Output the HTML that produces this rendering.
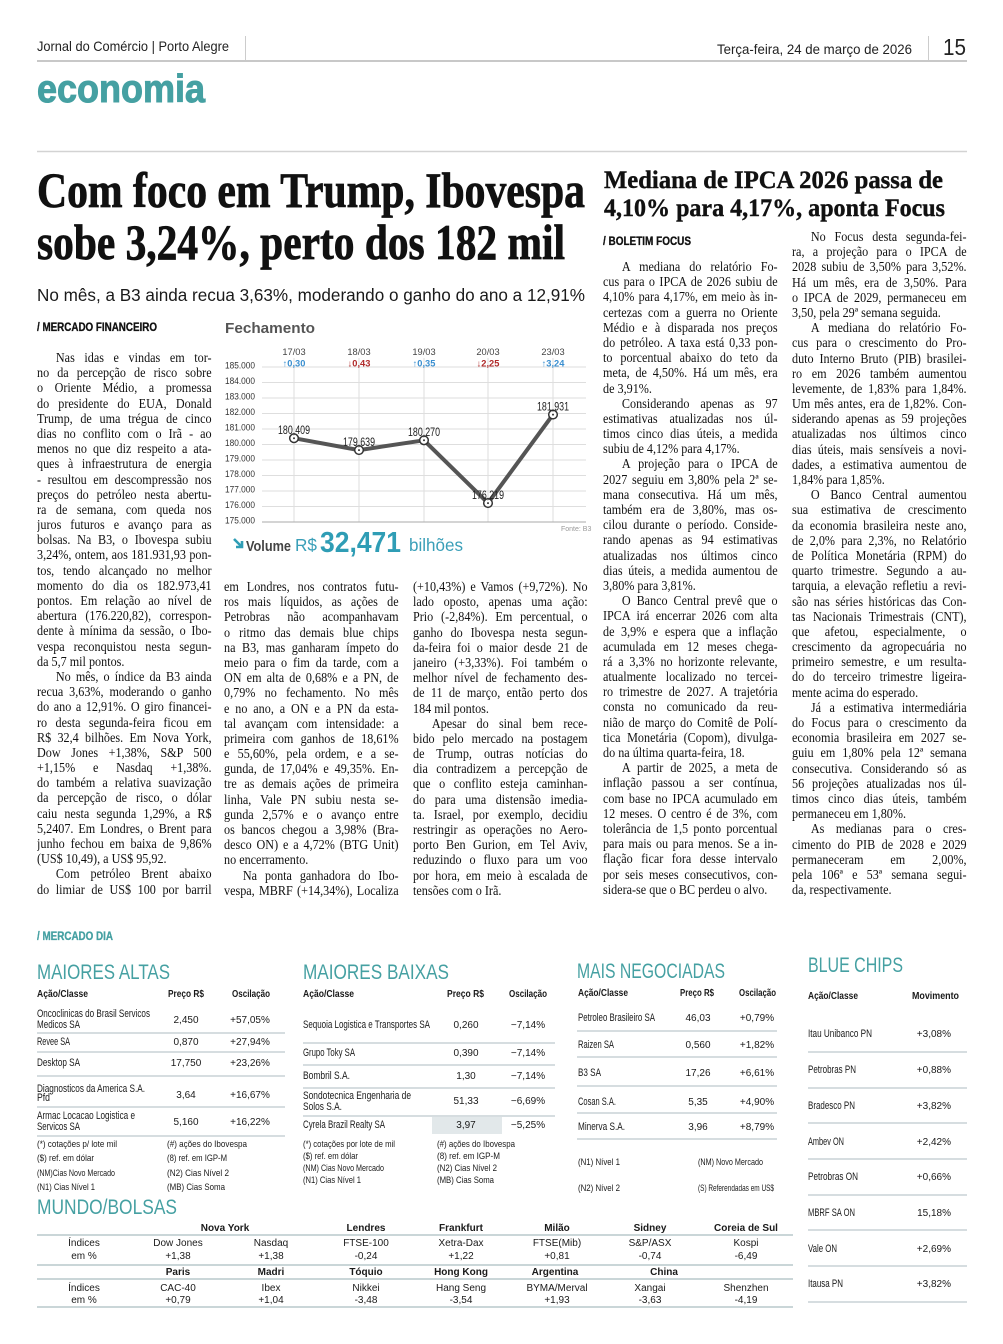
<!DOCTYPE html>
<html><head><meta charset="utf-8">
<style>
html,body{margin:0;padding:0;background:#fff}
#pg{position:relative;width:1003px;height:1344px;overflow:hidden;background:#fff}
svg{position:absolute;left:0;top:0}
.col{position:absolute;width:194px;transform:scaleX(0.9);transform-origin:0 0;font-family:"Liberation Serif",serif;font-size:13.5px;line-height:15.2px;color:#111}
.col div{height:15.2px;overflow:hidden;text-align:justify;text-align-last:justify}
.col div.e{text-align-last:left}
.col div.i{text-indent:21px}
</style></head><body><div id="pg">
<svg width="1003" height="1344" xmlns="http://www.w3.org/2000/svg">
<style>
.s{font-family:"Liberation Sans",sans-serif}
.b{font-family:"Liberation Sans",sans-serif;font-weight:bold}
.r{font-family:"Liberation Serif",serif;font-weight:bold}
.tl{fill:#45a0a2}
.t{font-family:"Liberation Sans",sans-serif;font-size:10px;fill:#1a1a1a}
.tn{font-family:"Liberation Sans",sans-serif;font-size:10.8px;fill:#1a1a1a}
.th{font-family:"Liberation Sans",sans-serif;font-weight:bold;font-size:10px;fill:#1a1a1a}
.fn{font-family:"Liberation Sans",sans-serif;font-size:9.5px;fill:#1a1a1a}
.m{text-anchor:middle}
.en{text-anchor:end}
</style>
<!-- header -->
<text x="37" y="51" class="s" font-size="14" fill="#222" textLength="192" lengthAdjust="spacingAndGlyphs">Jornal do Comércio | Porto Alegre</text>
<line x1="245.5" y1="36" x2="245.5" y2="60" stroke="#ccc"/>
<text x="717" y="54" class="s" font-size="14" fill="#222" textLength="195" lengthAdjust="spacingAndGlyphs">Terça-feira, 24 de março de 2026</text>
<line x1="928.5" y1="36" x2="928.5" y2="60" stroke="#ccc"/>
<text x="943" y="55" class="s" font-size="23" fill="#222" textLength="23" lengthAdjust="spacingAndGlyphs">15</text>
<line x1="37" y1="61" x2="967" y2="61" stroke="#c8c8c8" stroke-width="2"/>
<text x="37" y="102" class="b tl" font-size="39" stroke="#45a0a2" stroke-width="1" textLength="168" lengthAdjust="spacingAndGlyphs">economia</text>
<line x1="37" y1="151.5" x2="967" y2="151.5" stroke="#d3d3d3" stroke-width="1.5"/>

<!-- headlines -->
<text x="37" y="207" class="r" font-size="50" fill="#111" stroke="#111" stroke-width="0.8" textLength="548" lengthAdjust="spacingAndGlyphs">Com foco em Trump, Ibovespa</text>
<text x="37" y="259" class="r" font-size="50" fill="#111" stroke="#111" stroke-width="0.8" textLength="528" lengthAdjust="spacingAndGlyphs">sobe 3,24%, perto dos 182 mil</text>
<text x="37" y="301" class="s" font-size="17.5" fill="#1a1a1a" textLength="548" lengthAdjust="spacingAndGlyphs">No mês, a B3 ainda recua 3,63%, moderando o ganho do ano a 12,91%</text>
<text x="37" y="331" class="b" font-size="11.5" fill="#111" stroke="#111" stroke-width="0.3" textLength="120" lengthAdjust="spacingAndGlyphs">/ MERCADO FINANCEIRO</text>

<text x="604" y="188" class="r" font-size="25" fill="#111" stroke="#111" stroke-width="0.4" textLength="339" lengthAdjust="spacingAndGlyphs">Mediana de IPCA 2026 passa de</text>
<text x="604" y="216" class="r" font-size="25" fill="#111" stroke="#111" stroke-width="0.4" textLength="341" lengthAdjust="spacingAndGlyphs">4,10% para 4,17%, aponta Focus</text>
<text x="603" y="245" class="b" font-size="11.5" fill="#111" stroke="#111" stroke-width="0.3" textLength="88" lengthAdjust="spacingAndGlyphs">/ BOLETIM FOCUS</text>

<!-- chart -->
<text x="225" y="333" class="b" font-size="15" fill="#555" textLength="90" lengthAdjust="spacingAndGlyphs">Fechamento</text>
<g stroke="#dedede" stroke-width="1">
<line x1="262" y1="367" x2="586" y2="367"/>
<line x1="262" y1="382.5" x2="586" y2="382.5"/>
<line x1="262" y1="398" x2="586" y2="398"/>
<line x1="262" y1="413.5" x2="586" y2="413.5"/>
<line x1="262" y1="429" x2="586" y2="429"/>
<line x1="262" y1="444.5" x2="586" y2="444.5"/>
<line x1="262" y1="460" x2="586" y2="460"/>
<line x1="262" y1="475.5" x2="586" y2="475.5"/>
<line x1="262" y1="491" x2="586" y2="491"/>
<line x1="262" y1="506.5" x2="586" y2="506.5"/>
<line x1="294" y1="358" x2="294" y2="522"/>
<line x1="359" y1="358" x2="359" y2="522"/>
<line x1="424" y1="358" x2="424" y2="522"/>
<line x1="488" y1="358" x2="488" y2="522"/>
<line x1="553" y1="358" x2="553" y2="522"/>
</g>
<line x1="262" y1="522" x2="586" y2="522" stroke="#aaa" stroke-width="1"/>
<g class="s" font-size="9.3" fill="#333">
<text x="225" y="368.5" textLength="30" lengthAdjust="spacingAndGlyphs">185.000</text>
<text x="225" y="384" textLength="30" lengthAdjust="spacingAndGlyphs">184.000</text>
<text x="225" y="399.5" textLength="30" lengthAdjust="spacingAndGlyphs">183.000</text>
<text x="225" y="415" textLength="30" lengthAdjust="spacingAndGlyphs">182.000</text>
<text x="225" y="430.5" textLength="30" lengthAdjust="spacingAndGlyphs">181.000</text>
<text x="225" y="446" textLength="30" lengthAdjust="spacingAndGlyphs">180.000</text>
<text x="225" y="461.5" textLength="30" lengthAdjust="spacingAndGlyphs">179.000</text>
<text x="225" y="477" textLength="30" lengthAdjust="spacingAndGlyphs">178.000</text>
<text x="225" y="492.5" textLength="30" lengthAdjust="spacingAndGlyphs">177.000</text>
<text x="225" y="508" textLength="30" lengthAdjust="spacingAndGlyphs">176.000</text>
<text x="225" y="523.5" textLength="30" lengthAdjust="spacingAndGlyphs">175.000</text>
</g>
<g class="s m" font-size="9.3" fill="#444">
<text x="294" y="355">17/03</text>
<text x="359" y="355">18/03</text>
<text x="424" y="355">19/03</text>
<text x="488" y="355">20/03</text>
<text x="553" y="355">23/03</text>
</g>
<g class="b m" font-size="9.3">
<text x="294" y="366.5" fill="#3a8fd0">↑0,30</text>
<text x="359" y="366.5" fill="#b02a2a">↓0,43</text>
<text x="424" y="366.5" fill="#3a8fd0">↑0,35</text>
<text x="488" y="366.5" fill="#b02a2a">↓2,25</text>
<text x="553" y="366.5" fill="#3a8fd0">↑3,24</text>
</g>
<polyline points="294,438.2 359,450.1 424,440.3 488,503.1 553,414.6" fill="none" stroke="#555" stroke-width="4" stroke-linejoin="round"/>
<g fill="#fff" stroke="#333" stroke-width="1.5">
<circle cx="294" cy="438.2" r="4.3"/>
<circle cx="359" cy="450.1" r="4.3"/>
<circle cx="424" cy="440.3" r="4.3"/>
<circle cx="488" cy="503.1" r="4.3"/>
<circle cx="553" cy="414.6" r="4.3"/>
</g>
<g fill="#333">
<circle cx="294" cy="438.2" r="1"/>
<circle cx="359" cy="450.1" r="1"/>
<circle cx="424" cy="440.3" r="1"/>
<circle cx="488" cy="503.1" r="1"/>
<circle cx="553" cy="414.6" r="1"/>
</g>
<g class="s" font-size="11.5" fill="#222">
<text x="278" y="434" textLength="32" lengthAdjust="spacingAndGlyphs">180,409</text>
<text x="343" y="446" textLength="32" lengthAdjust="spacingAndGlyphs">179,639</text>
<text x="408" y="436" textLength="32" lengthAdjust="spacingAndGlyphs">180,270</text>
<text x="472" y="499" textLength="32" lengthAdjust="spacingAndGlyphs">176,219</text>
<text x="537" y="410.5" textLength="32" lengthAdjust="spacingAndGlyphs">181,931</text>
</g>
<text x="561" y="531" class="s" font-size="7" fill="#999">Fonte: B3</text>
<path d="M234,539 L241,546 M236,547 L242,547 L242,541" stroke="#2f9db5" stroke-width="2.6" fill="none"/>
<text x="246" y="551" class="b" font-size="14.5" fill="#444" textLength="45" lengthAdjust="spacingAndGlyphs">Volume</text>
<text x="295" y="551" class="s" font-size="17.5" fill="#3a9fb8" textLength="22" lengthAdjust="spacingAndGlyphs">R$</text>
<text x="320" y="552" class="b" font-size="29" fill="#2f9db5" textLength="81" lengthAdjust="spacingAndGlyphs">32,471</text>
<text x="409" y="551" class="s" font-size="17.5" fill="#3a9fb8" textLength="54" lengthAdjust="spacingAndGlyphs">bilhões</text>

<!-- MERCADO DIA -->
<text x="37" y="940" class="b tl" font-size="11.5" stroke="#45a0a2" stroke-width="0.3" textLength="76" lengthAdjust="spacingAndGlyphs">/ MERCADO DIA</text>

<!-- Maiores altas -->
<text x="37" y="979" class="s tl" font-size="21.5" textLength="133" lengthAdjust="spacingAndGlyphs">MAIORES ALTAS</text>
<text x="37" y="997" class="th" textLength="51" lengthAdjust="spacingAndGlyphs">Ação/Classe</text>
<text x="168" y="997" class="th" textLength="36" lengthAdjust="spacingAndGlyphs">Preço R$</text>
<text x="232" y="997" class="th" textLength="38" lengthAdjust="spacingAndGlyphs">Oscilação</text>
<g stroke="#c9d2d5" stroke-width="1.5">
<line x1="37" y1="1033" x2="285" y2="1033"/>
<line x1="37" y1="1052" x2="285" y2="1052"/>
<line x1="37" y1="1076" x2="285" y2="1076"/>
<line x1="37" y1="1107" x2="285" y2="1107"/>
<line x1="37" y1="1136" x2="285" y2="1136"/>
</g>
<text x="37" y="1017" class="tn" textLength="113" lengthAdjust="spacingAndGlyphs">Oncoclinicas do Brasil Servicos</text>
<text x="37" y="1028" class="tn" textLength="43" lengthAdjust="spacingAndGlyphs">Medicos SA</text>
<text x="186" y="1023" class="t m">2,450</text><text x="250" y="1023" class="t m">+57,05%</text>
<text x="37" y="1045" class="tn" textLength="33" lengthAdjust="spacingAndGlyphs">Revee SA</text>
<text x="186" y="1045" class="t m">0,870</text><text x="250" y="1045" class="t m">+27,94%</text>
<text x="37" y="1066" class="tn" textLength="43" lengthAdjust="spacingAndGlyphs">Desktop SA</text>
<text x="186" y="1066" class="t m">17,750</text><text x="250" y="1066" class="t m">+23,26%</text>
<text x="37" y="1092" class="tn" textLength="108" lengthAdjust="spacingAndGlyphs">Diagnosticos da America S.A.</text>
<text x="37" y="1101" class="tn" textLength="13" lengthAdjust="spacingAndGlyphs">Pfd</text>
<text x="186" y="1098" class="t m">3,64</text><text x="250" y="1098" class="t m">+16,67%</text>
<text x="37" y="1119" class="tn" textLength="98" lengthAdjust="spacingAndGlyphs">Armac Locacao Logistica e</text>
<text x="37" y="1130" class="tn" textLength="43" lengthAdjust="spacingAndGlyphs">Servicos SA</text>
<text x="186" y="1125" class="t m">5,160</text><text x="250" y="1125" class="t m">+16,22%</text>
<text x="37" y="1147" class="fn" textLength="80" lengthAdjust="spacingAndGlyphs">(*) cotações p/ lote mil</text>
<text x="167" y="1147" class="fn" textLength="80" lengthAdjust="spacingAndGlyphs">(#) ações do Ibovespa</text>
<text x="37" y="1161" class="fn" textLength="57" lengthAdjust="spacingAndGlyphs">($) ref. em dólar</text>
<text x="167" y="1161" class="fn" textLength="60" lengthAdjust="spacingAndGlyphs">(8) ref. em IGP-M</text>
<text x="37" y="1176" class="fn" textLength="78" lengthAdjust="spacingAndGlyphs">(NM)Cias Novo Mercado</text>
<text x="167" y="1176" class="fn" textLength="62" lengthAdjust="spacingAndGlyphs">(N2) Cias Nível 2</text>
<text x="37" y="1190" class="fn" textLength="58" lengthAdjust="spacingAndGlyphs">(N1) Cias Nível 1</text>
<text x="167" y="1190" class="fn" textLength="58" lengthAdjust="spacingAndGlyphs">(MB) Cias Soma</text>

<!-- Maiores baixas -->
<text x="303" y="979" class="s tl" font-size="21.5" textLength="146" lengthAdjust="spacingAndGlyphs">MAIORES BAIXAS</text>
<text x="303" y="997" class="th" textLength="51" lengthAdjust="spacingAndGlyphs">Ação/Classe</text>
<text x="447" y="997" class="th" textLength="37" lengthAdjust="spacingAndGlyphs">Preço R$</text>
<text x="509" y="997" class="th" textLength="38" lengthAdjust="spacingAndGlyphs">Oscilação</text>
<rect x="432" y="1117" width="70" height="17" fill="#e2e8ea"/>
<g stroke="#c9d2d5" stroke-width="1.5">
<line x1="303" y1="1043" x2="555" y2="1043"/>
<line x1="303" y1="1065" x2="555" y2="1065"/>
<line x1="303" y1="1088" x2="555" y2="1088"/>
<line x1="303" y1="1116" x2="555" y2="1116"/>
</g>
<text x="303" y="1028" class="tn" textLength="127" lengthAdjust="spacingAndGlyphs">Sequoia Logistica e Transportes SA</text>
<text x="466" y="1028" class="t m">0,260</text><text x="528" y="1028" class="t m">−7,14%</text>
<text x="303" y="1056" class="tn" textLength="52" lengthAdjust="spacingAndGlyphs">Grupo Toky SA</text>
<text x="466" y="1056" class="t m">0,390</text><text x="528" y="1056" class="t m">−7,14%</text>
<text x="303" y="1079" class="tn" textLength="47" lengthAdjust="spacingAndGlyphs">Bombril S.A.</text>
<text x="466" y="1079" class="t m">1,30</text><text x="528" y="1079" class="t m">−7,14%</text>
<text x="303" y="1099" class="tn" textLength="108" lengthAdjust="spacingAndGlyphs">Sondotecnica Engenharia de</text>
<text x="303" y="1110" class="tn" textLength="39" lengthAdjust="spacingAndGlyphs">Solos S.A.</text>
<text x="466" y="1104" class="t m">51,33</text><text x="528" y="1104" class="t m">−6,69%</text>
<text x="303" y="1128" class="tn" textLength="82" lengthAdjust="spacingAndGlyphs">Cyrela Brazil Realty SA</text>
<text x="466" y="1128" class="t m">3,97</text><text x="528" y="1128" class="t m">−5,25%</text>
<text x="303" y="1147" class="fn" textLength="92" lengthAdjust="spacingAndGlyphs">(*) cotações por lote de mil</text>
<text x="437" y="1147" class="fn" textLength="78" lengthAdjust="spacingAndGlyphs">(#) ações do Ibovespa</text>
<text x="303" y="1159" class="fn" textLength="55" lengthAdjust="spacingAndGlyphs">($) ref. em dólar</text>
<text x="437" y="1159" class="fn" textLength="63" lengthAdjust="spacingAndGlyphs">(8) ref. em IGP-M</text>
<text x="303" y="1171" class="fn" textLength="81" lengthAdjust="spacingAndGlyphs">(NM) Cias Novo Mercado</text>
<text x="437" y="1171" class="fn" textLength="60" lengthAdjust="spacingAndGlyphs">(N2) Cias Nível 2</text>
<text x="303" y="1183" class="fn" textLength="58" lengthAdjust="spacingAndGlyphs">(N1) Cias Nível 1</text>
<text x="437" y="1183" class="fn" textLength="57" lengthAdjust="spacingAndGlyphs">(MB) Cias Soma</text>

<!-- Mais negociadas -->
<text x="577" y="978" class="s tl" font-size="21.5" textLength="148" lengthAdjust="spacingAndGlyphs">MAIS NEGOCIADAS</text>
<text x="578" y="996" class="th" textLength="50" lengthAdjust="spacingAndGlyphs">Ação/Classe</text>
<text x="680" y="996" class="th" textLength="34" lengthAdjust="spacingAndGlyphs">Preço R$</text>
<text x="739" y="996" class="th" textLength="37" lengthAdjust="spacingAndGlyphs">Oscilação</text>
<g stroke="#c9d2d5" stroke-width="1.5">
<line x1="577" y1="1031" x2="777" y2="1031"/>
<line x1="577" y1="1057" x2="777" y2="1057"/>
<line x1="577" y1="1086" x2="777" y2="1086"/>
<line x1="577" y1="1113" x2="777" y2="1113"/>
<line x1="577" y1="1139" x2="777" y2="1139"/>
</g>
<text x="578" y="1021" class="tn" textLength="77" lengthAdjust="spacingAndGlyphs">Petroleo Brasileiro SA</text>
<text x="698" y="1021" class="t m">46,03</text><text x="757" y="1021" class="t m">+0,79%</text>
<text x="578" y="1048" class="tn" textLength="36" lengthAdjust="spacingAndGlyphs">Raizen SA</text>
<text x="698" y="1048" class="t m">0,560</text><text x="757" y="1048" class="t m">+1,82%</text>
<text x="578" y="1076" class="tn" textLength="23" lengthAdjust="spacingAndGlyphs">B3 SA</text>
<text x="698" y="1076" class="t m">17,26</text><text x="757" y="1076" class="t m">+6,61%</text>
<text x="578" y="1105" class="tn" textLength="38" lengthAdjust="spacingAndGlyphs">Cosan S.A.</text>
<text x="698" y="1105" class="t m">5,35</text><text x="757" y="1105" class="t m">+4,90%</text>
<text x="578" y="1130" class="tn" textLength="47" lengthAdjust="spacingAndGlyphs">Minerva S.A.</text>
<text x="698" y="1130" class="t m">3,96</text><text x="757" y="1130" class="t m">+8,79%</text>
<text x="578" y="1165" class="fn" textLength="42" lengthAdjust="spacingAndGlyphs">(N1) Nível 1</text>
<text x="698" y="1165" class="fn" textLength="65" lengthAdjust="spacingAndGlyphs">(NM) Novo Mercado</text>
<text x="578" y="1191" class="fn" textLength="42" lengthAdjust="spacingAndGlyphs">(N2) Nível 2</text>
<text x="698" y="1191" class="fn" textLength="76" lengthAdjust="spacingAndGlyphs">(S) Referendadas em US$</text>

<!-- Blue chips -->
<text x="808" y="972" class="s tl" font-size="21.5" textLength="95" lengthAdjust="spacingAndGlyphs">BLUE CHIPS</text>
<text x="808" y="999" class="th" textLength="50" lengthAdjust="spacingAndGlyphs">Ação/Classe</text>
<text x="912" y="999" class="th" textLength="47" lengthAdjust="spacingAndGlyphs">Movimento</text>
<g stroke="#c9d2d5" stroke-width="1.5">
<line x1="808" y1="1052" x2="967" y2="1052"/>
<line x1="808" y1="1088" x2="967" y2="1088"/>
<line x1="808" y1="1123" x2="967" y2="1123"/>
<line x1="808" y1="1159" x2="967" y2="1159"/>
<line x1="808" y1="1195" x2="967" y2="1195"/>
<line x1="808" y1="1230" x2="967" y2="1230"/>
<line x1="808" y1="1266" x2="967" y2="1266"/>
<line x1="808" y1="1302" x2="967" y2="1302"/>
</g>
<text x="808" y="1037" class="tn" textLength="64" lengthAdjust="spacingAndGlyphs">Itau Unibanco PN</text><text x="951" y="1037" class="t en">+3,08%</text>
<text x="808" y="1073" class="tn" textLength="48" lengthAdjust="spacingAndGlyphs">Petrobras PN</text><text x="951" y="1073" class="t en">+0,88%</text>
<text x="808" y="1109" class="tn" textLength="47" lengthAdjust="spacingAndGlyphs">Bradesco PN</text><text x="951" y="1109" class="t en">+3,82%</text>
<text x="808" y="1145" class="tn" textLength="36" lengthAdjust="spacingAndGlyphs">Ambev ON</text><text x="951" y="1145" class="t en">+2,42%</text>
<text x="808" y="1180" class="tn" textLength="50" lengthAdjust="spacingAndGlyphs">Petrobras ON</text><text x="951" y="1180" class="t en">+0,66%</text>
<text x="808" y="1216" class="tn" textLength="47" lengthAdjust="spacingAndGlyphs">MBRF SA ON</text><text x="951" y="1216" class="t en">15,18%</text>
<text x="808" y="1252" class="tn" textLength="29" lengthAdjust="spacingAndGlyphs">Vale ON</text><text x="951" y="1252" class="t en">+2,69%</text>
<text x="808" y="1287" class="tn" textLength="35" lengthAdjust="spacingAndGlyphs">Itausa PN</text><text x="951" y="1287" class="t en">+3,82%</text>

<!-- Mundo/Bolsas -->
<text x="37" y="1214" class="s tl" font-size="21.5" textLength="140" lengthAdjust="spacingAndGlyphs">MUNDO/BOLSAS</text>
<g stroke="#b9c8cb" stroke-width="1.5">
<line x1="37" y1="1235" x2="793" y2="1235"/>
<line x1="37" y1="1265" x2="793" y2="1265"/>
<line x1="37" y1="1279" x2="793" y2="1279"/>
<line x1="37" y1="1307" x2="793" y2="1307"/>
</g>
<g class="th m">
<text x="225" y="1231">Nova York</text>
<text x="366" y="1231">Lendres</text>
<text x="461" y="1231">Frankfurt</text>
<text x="557" y="1231">Milão</text>
<text x="650" y="1231">Sidney</text>
<text x="746" y="1231">Coreia de Sul</text>
<text x="178" y="1275">Paris</text>
<text x="271" y="1275">Madri</text>
<text x="366" y="1275">Tóquio</text>
<text x="461" y="1275">Hong Kong</text>
<text x="555" y="1275">Argentina</text>
<text x="664" y="1275">China</text>
</g>
<g class="t m">
<text x="84" y="1246">Índices</text><text x="84" y="1259">em %</text>
<text x="178" y="1246">Dow Jones</text><text x="178" y="1259">+1,38</text>
<text x="271" y="1246">Nasdaq</text><text x="271" y="1259">+1,38</text>
<text x="366" y="1246">FTSE-100</text><text x="366" y="1259">-0,24</text>
<text x="461" y="1246">Xetra-Dax</text><text x="461" y="1259">+1,22</text>
<text x="557" y="1246">FTSE(Mib)</text><text x="557" y="1259">+0,81</text>
<text x="650" y="1246">S&amp;P/ASX</text><text x="650" y="1259">-0,74</text>
<text x="746" y="1246">Kospi</text><text x="746" y="1259">-6,49</text>
<text x="84" y="1291">Índices</text><text x="84" y="1303">em %</text>
<text x="178" y="1291">CAC-40</text><text x="178" y="1303">+0,79</text>
<text x="271" y="1291">Ibex</text><text x="271" y="1303">+1,04</text>
<text x="366" y="1291">Nikkei</text><text x="366" y="1303">-3,48</text>
<text x="461" y="1291">Hang Seng</text><text x="461" y="1303">-3,54</text>
<text x="557" y="1291">BYMA/Merval</text><text x="557" y="1303">+1,93</text>
<text x="650" y="1291">Xangai</text><text x="650" y="1303">-3,63</text>
<text x="746" y="1291">Shenzhen</text><text x="746" y="1303">-4,19</text>
</g>
</svg>

<!-- Column 1 -->
<div class="col" style="left:37px;top:350px">
<div class="i">Nas idas e vindas em tor-</div>
<div>no da percepção de risco sobre</div>
<div>o Oriente Médio, a promessa</div>
<div>do presidente do EUA, Donald</div>
<div>Trump, de uma trégua de cinco</div>
<div>dias no conflito com o Irã - ao</div>
<div>menos no que diz respeito a ata-</div>
<div>ques à infraestrutura de energia</div>
<div>- resultou em descompressão nos</div>
<div>preços do petróleo nesta abertu-</div>
<div>ra de semana, com queda nos</div>
<div>juros futuros e avanço para as</div>
<div>bolsas. Na B3, o Ibovespa subiu</div>
<div>3,24%, ontem, aos 181.931,93 pon-</div>
<div>tos, tendo alcançado no melhor</div>
<div>momento do dia os 182.973,41</div>
<div>pontos. Em relação ao nível de</div>
<div>abertura (176.220,82), correspon-</div>
<div>dente à mínima da sessão, o Ibo-</div>
<div>vespa reconquistou nesta segun-</div>
<div class="e">da 5,7 mil pontos.</div>
<div class="i">No mês, o índice da B3 ainda</div>
<div>recua 3,63%, moderando o ganho</div>
<div>do ano a 12,91%. O giro financei-</div>
<div>ro desta segunda-feira ficou em</div>
<div>R$ 32,4 bilhões. Em Nova York,</div>
<div>Dow Jones +1,38%, S&amp;P 500</div>
<div>+1,15% e Nasdaq +1,38%. Refletin-</div>
<div>do também a relativa suavização</div>
<div>da percepção de risco, o dólar</div>
<div>caiu nesta segunda 1,29%, a R$</div>
<div>5,2407. Em Londres, o Brent para</div>
<div>junho fechou em baixa de 9,86%</div>
<div class="e">(US$ 10,49), a US$ 95,92.</div>
<div class="i">Com petróleo Brent abaixo</div>
<div>do limiar de US$ 100 por barril</div>
</div>

<!-- Column 2 -->
<div class="col" style="left:224px;top:579px">
<div>em Londres, nos contratos futu-</div>
<div>ros mais líquidos, as ações de</div>
<div>Petrobras não acompanhavam</div>
<div>o ritmo das demais blue chips</div>
<div>na B3, mas ganharam ímpeto do</div>
<div>meio para o fim da tarde, com a</div>
<div>ON em alta de 0,68% e a PN, de</div>
<div>0,79% no fechamento. No mês</div>
<div>e no ano, a ON e a PN da esta-</div>
<div>tal avançam com intensidade: a</div>
<div>primeira com ganhos de 18,61%</div>
<div>e 55,60%, pela ordem, e a se-</div>
<div>gunda, de 17,04% e 49,35%. En-</div>
<div>tre as demais ações de primeira</div>
<div>linha, Vale PN subiu nesta se-</div>
<div>gunda 2,57% e o avanço entre</div>
<div>os bancos chegou a 3,98% (Bra-</div>
<div>desco ON) e a 4,72% (BTG Unit)</div>
<div class="e">no encerramento.</div>
<div class="i">Na ponta ganhadora do Ibo-</div>
<div>vespa, MBRF (+14,34%), Localiza</div>
</div>

<!-- Column 3 -->
<div class="col" style="left:413px;top:579px">
<div>(+10,43%) e Vamos (+9,72%). No</div>
<div>lado oposto, apenas uma ação:</div>
<div>Prio (-2,84%). Em percentual, o</div>
<div>ganho do Ibovespa nesta segun-</div>
<div>da-feira foi o maior desde 21 de</div>
<div>janeiro (+3,33%). Foi também o</div>
<div>melhor nível de fechamento des-</div>
<div>de 11 de março, então perto dos</div>
<div class="e">184 mil pontos.</div>
<div class="i">Apesar do sinal bem rece-</div>
<div>bido pelo mercado na postagem</div>
<div>de Trump, outras notícias do</div>
<div>dia contradizem a percepção de</div>
<div>que o conflito esteja caminhan-</div>
<div>do para uma distensão imedia-</div>
<div>ta. Israel, por exemplo, decidiu</div>
<div>restringir as operações no Aero-</div>
<div>porto Ben Gurion, em Tel Aviv,</div>
<div>reduzindo o fluxo para um voo</div>
<div>por hora, em meio à escalada de</div>
<div class="e">tensões com o Irã.</div>
</div>

<!-- Column 4 -->
<div class="col" style="left:603px;top:259px">
<div class="i">A mediana do relatório Fo-</div>
<div>cus para o IPCA de 2026 subiu de</div>
<div>4,10% para 4,17%, em meio às in-</div>
<div>certezas com a guerra no Oriente</div>
<div>Médio e à disparada nos preços</div>
<div>do petróleo. A taxa está 0,33 pon-</div>
<div>to porcentual abaixo do teto da</div>
<div>meta, de 4,50%. Há um mês, era</div>
<div class="e">de 3,91%.</div>
<div class="i">Considerando apenas as 97</div>
<div>estimativas atualizadas nos úl-</div>
<div>timos cinco dias úteis, a medida</div>
<div class="e">subiu de 4,12% para 4,17%.</div>
<div class="i">A projeção para o IPCA de</div>
<div>2027 seguiu em 3,80% pela 2ª se-</div>
<div>mana consecutiva. Há um mês,</div>
<div>também era de 3,80%, mas os-</div>
<div>cilou durante o período. Conside-</div>
<div>rando apenas as 94 estimativas</div>
<div>atualizadas nos últimos cinco</div>
<div>dias úteis, a medida aumentou de</div>
<div class="e">3,80% para 3,81%.</div>
<div class="i">O Banco Central prevê que o</div>
<div>IPCA irá encerrar 2026 com alta</div>
<div>de 3,9% e espera que a inflação</div>
<div>acumulada em 12 meses chega-</div>
<div>rá a 3,3% no horizonte relevante,</div>
<div>atualmente localizado no tercei-</div>
<div>ro trimestre de 2027. A trajetória</div>
<div>consta no comunicado da reu-</div>
<div>nião de março do Comitê de Polí-</div>
<div>tica Monetária (Copom), divulga-</div>
<div class="e">do na última quarta-feira, 18.</div>
<div class="i">A partir de 2025, a meta de</div>
<div>inflação passou a ser contínua,</div>
<div>com base no IPCA acumulado em</div>
<div>12 meses. O centro é de 3%, com</div>
<div>tolerância de 1,5 ponto porcentual</div>
<div>para mais ou para menos. Se a in-</div>
<div>flação ficar fora desse intervalo</div>
<div>por seis meses consecutivos, con-</div>
<div class="e">sidera-se que o BC perdeu o alvo.</div>
</div>

<!-- Column 5 -->
<div class="col" style="left:792px;top:229px">
<div class="i">No Focus desta segunda-fei-</div>
<div>ra, a projeção para o IPCA de</div>
<div>2028 subiu de 3,50% para 3,52%.</div>
<div>Há um mês, era de 3,50%. Para</div>
<div>o IPCA de 2029, permaneceu em</div>
<div class="e">3,50, pela 29ª semana seguida.</div>
<div class="i">A mediana do relatório Fo-</div>
<div>cus para o crescimento do Pro-</div>
<div>duto Interno Bruto (PIB) brasilei-</div>
<div>ro em 2026 também aumentou</div>
<div>levemente, de 1,83% para 1,84%.</div>
<div>Um mês antes, era de 1,82%. Con-</div>
<div>siderando apenas as 59 projeções</div>
<div>atualizadas nos últimos cinco</div>
<div>dias úteis, mais sensíveis a novi-</div>
<div>dades, a estimativa aumentou de</div>
<div class="e">1,84% para 1,85%.</div>
<div class="i">O Banco Central aumentou</div>
<div>sua estimativa de crescimento</div>
<div>da economia brasileira neste ano,</div>
<div>de 2,0% para 2,3%, no Relatório</div>
<div>de Política Monetária (RPM) do</div>
<div>quarto trimestre. Segundo a au-</div>
<div>tarquia, a elevação refletiu a revi-</div>
<div>são nas séries históricas das Con-</div>
<div>tas Nacionais Trimestrais (CNT),</div>
<div>que afetou, especialmente, o</div>
<div>crescimento da agropecuária no</div>
<div>primeiro semestre, e um resulta-</div>
<div>do do terceiro trimestre ligeira-</div>
<div class="e">mente acima do esperado.</div>
<div class="i">Já a estimativa intermediária</div>
<div>do Focus para o crescimento da</div>
<div>economia brasileira em 2027 se-</div>
<div>guiu em 1,80% pela 12ª semana</div>
<div>consecutiva. Considerando só as</div>
<div>56 projeções atualizadas nos úl-</div>
<div>timos cinco dias úteis, também</div>
<div class="e">permaneceu em 1,80%.</div>
<div class="i">As medianas para o cres-</div>
<div>cimento do PIB de 2028 e 2029</div>
<div>permaneceram em 2,00%,</div>
<div>pela 106ª e 53ª semana segui-</div>
<div class="e">da, respectivamente.</div>
</div>
</div></body></html>
